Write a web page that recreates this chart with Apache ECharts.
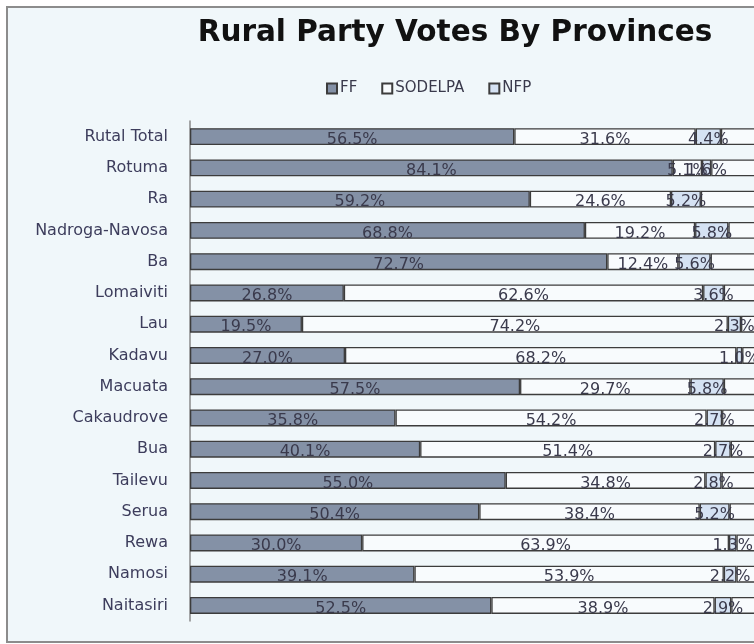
<!DOCTYPE html>
<html>
<head>
<meta charset="utf-8">
<script src="https://cdn.jsdelivr.net/npm/echarts@6/dist/echarts.min.js"></script>
<style>
  html, body { margin: 0; padding: 0; background: #ffffff; width: 754px; height: 644px; overflow: hidden; }
  #frame { position: absolute; left: 6px; top: 6px; width: 820px; height: 633px; border: 2px solid #8c8c8c; background: #f0f7fa; }
  #chart { position: absolute; left: 0; top: 0; width: 790px; height: 644px; }
</style>
</head>
<body>
<div id="frame"></div>
<div id="chart"></div>
<script>
const provinces = ["Rutal Total", "Rotuma", "Ra", "Nadroga-Navosa", "Ba", "Lomaiviti", "Lau", "Kadavu", "Macuata", "Cakaudrove", "Bua", "Tailevu", "Serua", "Rewa", "Namosi", "Naitasiri"];
const ff      = [56.5, 84.1, 59.2, 68.8, 72.7, 26.8, 19.5, 27.0, 57.5, 35.8, 40.1, 55.0, 50.4, 30.0, 39.1, 52.5];
const sodelpa = [31.6, 5.1, 24.6, 19.2, 12.4, 62.6, 74.2, 68.2, 29.7, 54.2, 51.4, 34.8, 38.4, 63.9, 53.9, 38.9];
const nfp     = [4.4, 1.6, 5.2, 5.8, 5.6, 3.6, 2.3, 1.0, 5.8, 2.7, 2.7, 2.8, 5.2, 1.3, 2.2, 2.9];
const others  = [7.5, 9.2, 11.0, 6.2, 9.3, 7.0, 4.0, 3.8, 7.0, 7.3, 5.8, 7.4, 6.0, 4.8, 4.8, 5.7];

const chart = echarts.init(document.getElementById('chart'), null, { width: 790, height: 644 });
const border = { borderColor: '#3c3c3c', borderWidth: 1.3 };
const lbl = {
  show: true, position: 'inside', offset: [0, 3],
  fontFamily: 'DejaVu Sans', fontSize: 16, color: '#3a3a4c',
  formatter: p => p.value.toFixed(1) + '%'
};
function mk(name, data, color, withLabel) {
  return {
    name, type: 'bar', stack: 'all', data, barWidth: 17,
    itemStyle: Object.assign({ color }, border),
    label: withLabel ? lbl : { show: false },
    emphasis: { disabled: true }
  };
}
chart.setOption({
  backgroundColor: 'transparent',
  animation: false,
  title: {
    text: 'Rural Party Votes By Provinces',
    left: 450, top: 13, textAlign: 'center',
    textStyle: { fontFamily: 'DejaVu Sans', fontWeight: 'bold', fontSize: 29.5, color: '#111111' }
  },
  legend: {
    data: ['FF', 'SODELPA', 'NFP'],
    left: 321, top: 76, itemWidth: 10, itemHeight: 10, itemGap: 24,
    icon: 'rect',
    textStyle: { fontFamily: 'DejaVu Sans', fontSize: 15, color: '#3a3a4c', padding: [0, 0, 0, -2] }
  },
  grid: { left: 190, top: 121, width: 574, height: 500, containLabel: false },
  xAxis: {
    type: 'value', min: 0, max: 100, show: false
  },
  yAxis: {
    type: 'category', data: provinces, inverse: true,
    axisLine: { show: true, lineStyle: { color: '#8a8a8a', width: 1.5 } },
    axisTick: { show: false },
    axisLabel: { margin: 22, fontFamily: 'DejaVu Sans', fontSize: 16, color: '#3d3d5c' },
    splitLine: { show: false }
  },
  series: [
    mk('FF', ff, '#8491a6', true),
    mk('SODELPA', sodelpa, '#f8fbfd', true),
    mk('NFP', nfp, '#d5e2f3', true),
    mk('Others', others, '#f8fbfd', false)
  ]
});
</script>
</body>
</html>
